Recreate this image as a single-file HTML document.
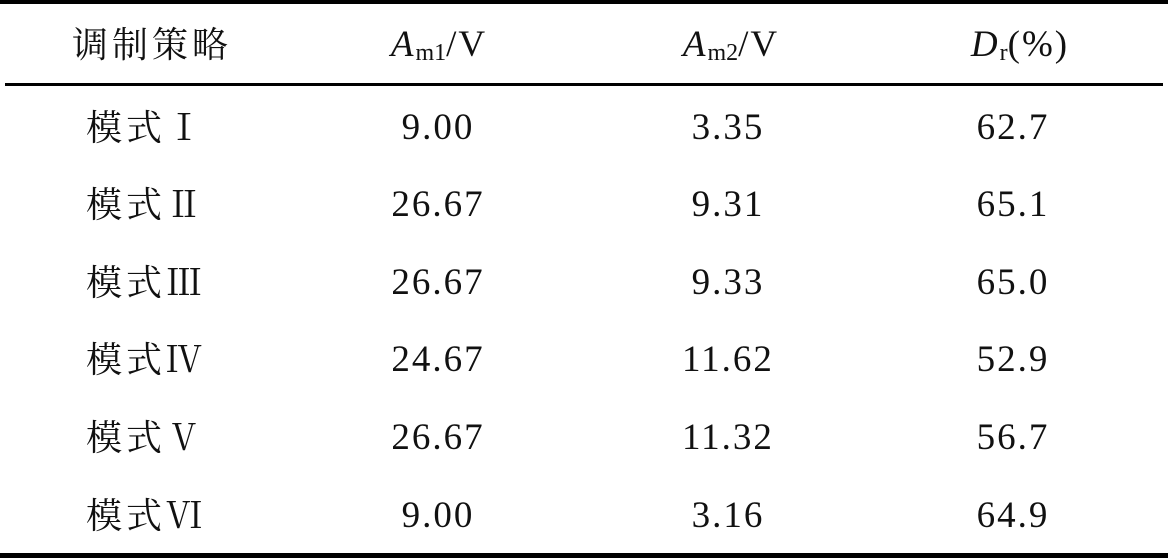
<!DOCTYPE html>
<html><head><meta charset="utf-8"><style>
body{margin:0;width:1168px;height:560px;background:#fff;position:relative;overflow:hidden;font-family:"Liberation Serif","Noto Serif CJK SC",serif;color:#111}
.l{position:absolute;background:#000}
.t{position:absolute;height:50px;line-height:50px;font-size:37px;text-align:center;width:300px;white-space:nowrap;letter-spacing:2px}
.c{font-family:"Liberation Serif","Noto Serif CJK SC",serif;letter-spacing:4px;font-size:36px}
i{font-style:italic}
sub{font-size:24px;vertical-align:-4px;line-height:0;letter-spacing:0}
</style></head><body>
<div class="l" style="left:0;top:0;width:1168px;height:4px"></div>
<div class="l" style="left:5px;top:83px;width:1158px;height:3px"></div>
<div class="l" style="left:0;top:553px;width:1168px;height:5px"></div>

<div class="t c" style="left:2px;top:20px">调制策略</div>
<div class="t" style="left:289px;top:20px"><i>A</i><sub>m1</sub>/V</div>
<div class="t" style="left:581px;top:20px"><i>A</i><sub>m2</sub>/V</div>
<div class="t" style="left:870px;top:20px"><i>D</i><sub>r</sub>(%)</div>

<div class="t c" style="left:-4px;top:103px">模式Ⅰ</div>
<div class="t" style="left:288px;top:103px">9.00</div>
<div class="t" style="left:578px;top:103px">3.35</div>
<div class="t" style="left:863px;top:103px">62.7</div>

<div class="t c" style="left:-4px;top:180px">模式Ⅱ</div>
<div class="t" style="left:288px;top:180px">26.67</div>
<div class="t" style="left:578px;top:180px">9.31</div>
<div class="t" style="left:863px;top:180px">65.1</div>

<div class="t c" style="left:-4px;top:258px">模式Ⅲ</div>
<div class="t" style="left:288px;top:258px">26.67</div>
<div class="t" style="left:578px;top:258px">9.33</div>
<div class="t" style="left:863px;top:258px">65.0</div>

<div class="t c" style="left:-4px;top:335px">模式Ⅳ</div>
<div class="t" style="left:288px;top:335px">24.67</div>
<div class="t" style="left:578px;top:335px">11.62</div>
<div class="t" style="left:863px;top:335px">52.9</div>

<div class="t c" style="left:-4px;top:413px">模式Ⅴ</div>
<div class="t" style="left:288px;top:413px">26.67</div>
<div class="t" style="left:578px;top:413px">11.32</div>
<div class="t" style="left:863px;top:413px">56.7</div>

<div class="t c" style="left:-4px;top:491px">模式Ⅵ</div>
<div class="t" style="left:288px;top:491px">9.00</div>
<div class="t" style="left:578px;top:491px">3.16</div>
<div class="t" style="left:863px;top:491px">64.9</div>
</body></html>
